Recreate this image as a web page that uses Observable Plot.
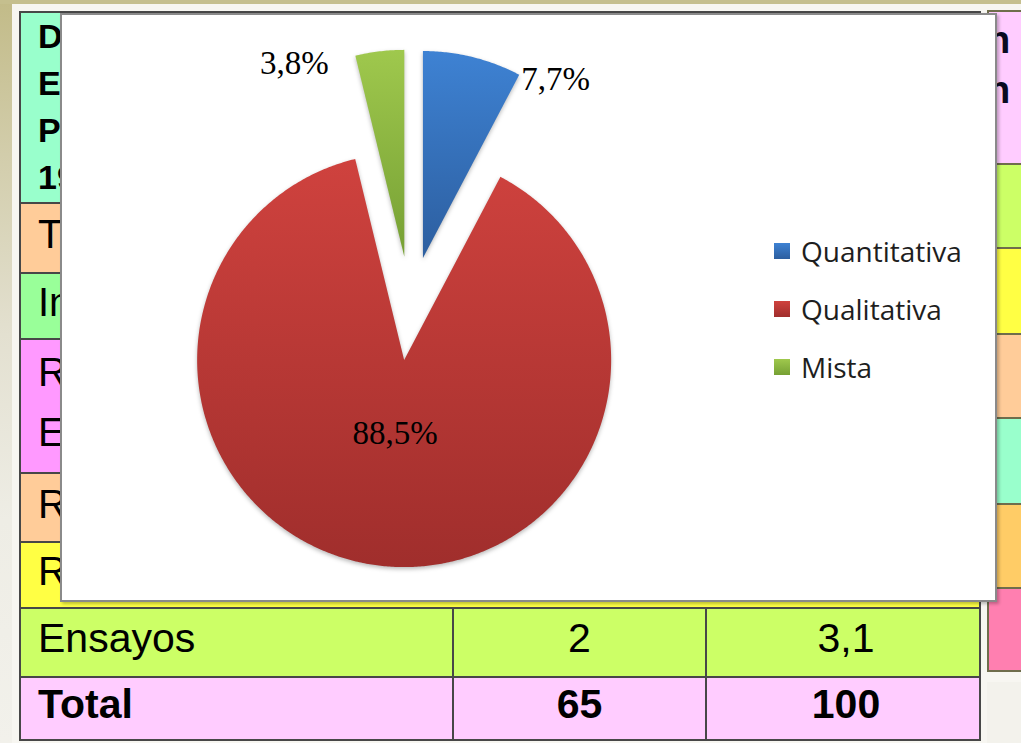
<!DOCTYPE html>
<html><head><meta charset="utf-8">
<script src="https://cdn.jsdelivr.net/npm/d3@7"></script>
<script src="https://cdn.jsdelivr.net/npm/@observablehq/plot@0.6"></script>
<style>
html,body{margin:0;padding:0;}
body{width:1021px;height:743px;overflow:hidden;position:relative;
 background:linear-gradient(to bottom,#c2bb88 0%,#d3cead 22%,#e3e0d0 45%,#eeede5 70%,#f2f1eb 100%);
 font-family:"Liberation Sans",Arial,sans-serif;color:#000;}
.abs{position:absolute;box-sizing:border-box;}
#band{left:0;top:0;width:1021px;height:4px;background:#c5bf8e;}
#panel{left:12px;top:4px;width:1009px;height:739px;background:#f7f6f1;}
#grayR{left:987px;top:682px;width:34px;height:61px;background:#f3f2ec;}
.row{border:2px solid #474747;border-bottom:none;overflow:hidden;}
.row.last{border-bottom:2px solid #474747;}
.rrow{border:2px solid #6f6d4c;border-bottom:none;overflow:hidden;}
.rrow.last{border-bottom:2px solid #6f6d4c;}
.txt{position:absolute;left:0;top:0;bottom:0;display:flex;align-items:center;padding:0 0 8px 17px;box-sizing:border-box;font-size:40px;line-height:60px;white-space:nowrap;}
.hdr{position:absolute;left:0;top:0;padding-left:17px;font-size:34px;font-weight:bold;line-height:47px;white-space:pre;}
.col{position:absolute;top:0;bottom:0;border-left:2px solid #474747;display:flex;align-items:center;justify-content:center;padding-bottom:8px;box-sizing:border-box;font-size:41px;}
#box{left:60px;top:13px;width:937px;height:589px;border:2px solid #8a8a8a;background:#fff;box-shadow:2px 2px 3px rgba(0,0,0,0.25);}
#legend{position:absolute;left:712px;top:207px;font-family:"Open Sans",sans-serif;font-size:28px;color:#1e1e1e;}
.lrow{height:58px;display:flex;align-items:center;}
.sw{width:16px;height:16px;margin-right:11px;}
</style></head>
<body>
<div id="band" class="abs"></div>
<div id="panel" class="abs"></div>
<div id="grayR" class="abs"></div>
<div id="tables"></div>
<div id="box" class="abs"><div id="chart" style="position:absolute;left:0;top:0"></div><div id="legend"></div></div>
<script>
// ---- chart data ----
const categories = ["Quantitativa", "Qualitativa", "Mista"];
const percentages = [7.7, 88.5, 3.8];
const percentLabels = ["7,7%", "88,5%", "3,8%"];
// ---- chart styles ----
const gradTop = ["#3e82d3", "#cf423e", "#9fc84d"];
const gradBottom = ["#2c5e9f", "#a02e2c", "#76a034"];

// ---- background table data ----
const upperRowTexts = [["D","E","P","19"], ["T"], ["In"], ["R","E"], ["R"], ["R"]];
const upperRowColors = ["#99ffcc", "#ffcc99", "#99ff99", "#ff99ff", "#ffcc99", "#ffff44"];
const tableCategories = ["Ensayos", "Total"];
const tableCounts = ["2", "65"];
const tablePercents = ["3,1", "100"];
const lowerRowColors = ["#ccff66", "#ffccff"];
const rightColors = ["#ffccff", "#ccff66", "#ffff44", "#ffcc99", "#99ffcc", "#ffcc66", "#ff7fb0"];
const rightTexts = ["n", "n"];

// ---- table layout ----
const rowEdges = [11, 202, 272, 338, 472, 541, 607, 676, 741];
const rightEdges = [10, 163, 247, 333, 417, 503, 587, 672];
const T = document.getElementById("tables");
function div(cls, style, parent) {
  const d = document.createElement("div");
  d.className = cls; Object.assign(d.style, style); (parent || T).appendChild(d); return d;
}
const nRows = upperRowTexts.length + tableCategories.length;
for (let i = 0; i < nRows; i++) {
  const top = rowEdges[i], h = rowEdges[i + 1] - top;
  const upper = i < upperRowTexts.length;
  const r = div("abs row" + (i === nRows - 1 ? " last" : ""), {
    left: "19px", top: top + "px", width: "962px", height: h + "px",
    background: upper ? upperRowColors[i] : lowerRowColors[i - upperRowTexts.length]
  });
  if (upper) {
    const lines = upperRowTexts[i];
    if (i === 0) {
      const t = div("hdr", {}, r); t.textContent = lines.join("\n");
    } else {
      const t = div("txt", {flexDirection: "column", alignItems: "flex-start", justifyContent: "center"}, r);
      lines.forEach(l => { const s = document.createElement("div"); s.textContent = l; t.appendChild(s); });
    }
  } else {
    const k = i - upperRowTexts.length;
    const bold = k === 1 ? "bold" : "normal";
    const t = div("txt", {fontWeight: bold, lineHeight: "1", fontSize: "41px"}, r); t.textContent = tableCategories[k];
    const c2 = div("col", {left: "431px", width: "253px", fontWeight: bold}, r); c2.textContent = tableCounts[k];
    const c3 = div("col", {left: "684px", width: "280px", fontWeight: bold}, r); c3.textContent = tablePercents[k];
  }
}
for (let i = 0; i < rightColors.length; i++) {
  const top = rightEdges[i], h = rightEdges[i + 1] - top;
  div("abs rrow" + (i === rightColors.length - 1 ? " last" : ""), {
    left: "987px", top: top + "px", width: "60px", height: h + "px", background: rightColors[i]
  });
}
rightTexts.forEach((s, j) => {
  const t = div("abs", {left: "987px", top: (21 + 50 * j) + "px", fontSize: "38px", fontWeight: "bold", lineHeight: "1", color: "#0a0a20"});
  t.textContent = s;
});

// ---- pie chart ----
const W = 933, H = 585;
const cx = 348, cy = 293, R = 207, explode = 52;
const toRad = p => p / 100 * 2 * Math.PI;
const slices = [];
const outline = [];
let acc = 0;
categories.forEach((cat, i) => {
  const a0 = toRad(acc); acc += percentages[i]; const a1 = toRad(acc);
  const am = (a0 + a1) / 2;
  const ox = cx + explode * Math.sin(am), oy = cy - explode * Math.cos(am);
  const fill = `url(#grad${i})`;
  outline.push({cat, fill, x: ox, y: oy});
  const n = Math.max(4, Math.ceil((a1 - a0) / (Math.PI / 360)));
  for (let k = 0; k <= n; k++) {
    const t = a0 + (a1 - a0) * k / n;
    outline.push({cat, fill, x: ox + R * Math.sin(t), y: oy - R * Math.cos(t)});
  }
  // label placement: inside for the large slice, outside (pushed away from the top) for small ones
  let la, lr;
  if (percentages[i] > 50) { la = am; lr = 0.61 * R; }
  else { const s = Math.sin(am) >= 0 ? 1 : -1; la = am + s * 18.5 * Math.PI / 180; lr = 1.31 * R; }
  slices.push({cat, label: percentLabels[i], x: cx + lr * Math.sin(la), y: cy - lr * Math.cos(la)});
});

const svg = Plot.plot({
  width: W, height: H,
  marginTop: 0, marginRight: 0, marginBottom: 0, marginLeft: 0,
  x: {domain: [0, W], range: [0, W], axis: null},
  y: {domain: [0, H], range: [0, H], axis: null},
  color: {type: "identity"},
  style: {background: "transparent", overflow: "visible"},
  marks: [
    Plot.line(outline, {x: "x", y: "y", z: "cat", fill: "fill", stroke: "none", curve: "linear"}),
    Plot.text(slices, {x: "x", y: "y", text: "label", fontFamily: "'Liberation Serif', 'Times New Roman', serif",
      fontSize: 33, fill: "#000", textAnchor: "middle", lineAnchor: "middle"})
  ]
});
const defs = d3.select(svg).insert("defs", ":first-child");
categories.forEach((c, i) => {
  const g = defs.append("linearGradient").attr("id", "grad" + i).attr("x1", 0).attr("y1", 0).attr("x2", 0).attr("y2", 1);
  g.append("stop").attr("offset", "0%").attr("stop-color", gradTop[i]);
  g.append("stop").attr("offset", "100%").attr("stop-color", gradBottom[i]);
});
d3.select(svg).selectAll("g[aria-label='line']").style("filter", "drop-shadow(0px 2px 2px rgba(0,0,0,0.28))");
document.getElementById("chart").appendChild(svg);

const L = document.getElementById("legend");
categories.forEach((c, i) => {
  const row = document.createElement("div"); row.className = "lrow";
  const sw = document.createElement("div"); sw.className = "sw";
  sw.style.background = `linear-gradient(to bottom, ${gradTop[i]}, ${gradBottom[i]})`;
  const tx = document.createElement("span"); tx.textContent = c;
  row.appendChild(sw); row.appendChild(tx); L.appendChild(row);
});
</script>
</body></html>
